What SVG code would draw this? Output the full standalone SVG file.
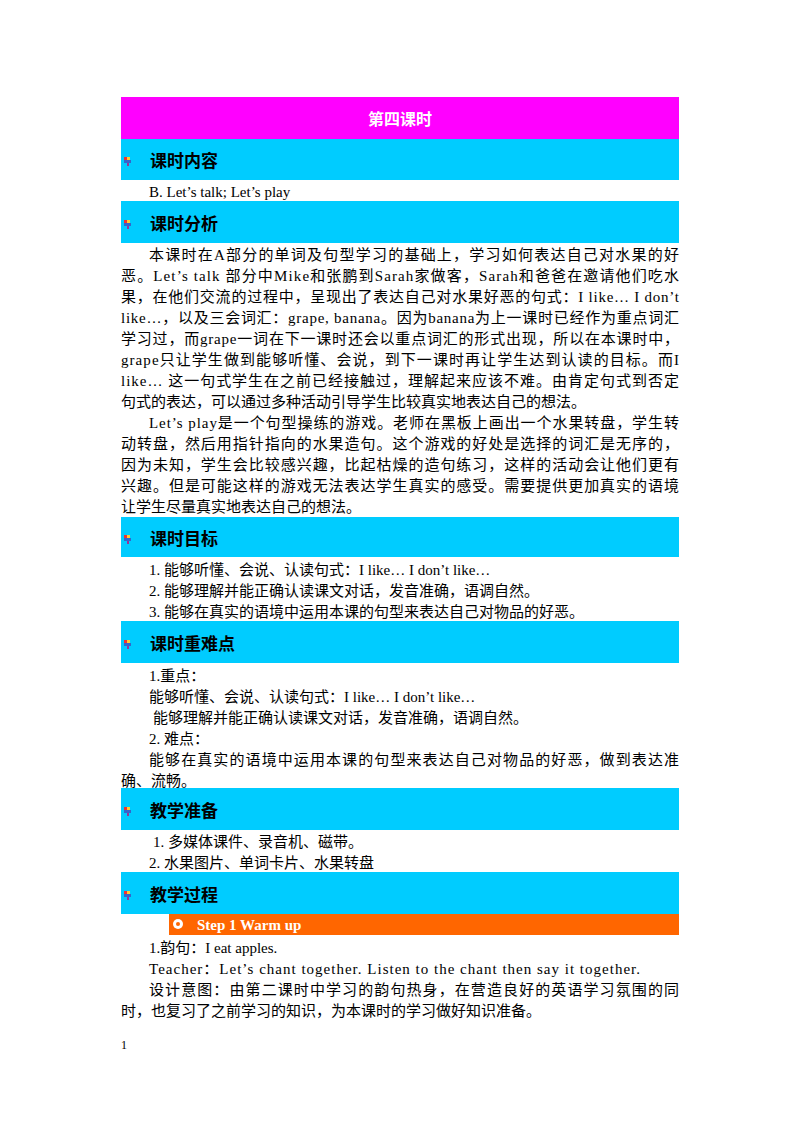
<svg xmlns="http://www.w3.org/2000/svg" width="800" height="1132" viewBox="0 0 800 1132">
<style>
.b{font-family:"Liberation Serif","Noto Sans CJK SC",serif;font-size:15px;fill:#000}
.h{font-family:"Noto Sans CJK SC","Liberation Sans",sans-serif;font-size:17px;font-weight:bold;fill:#000}
.cy{fill:#00CCFF}
</style>
<defs>
<g id="ic"><rect x="0" y="0" width="3" height="3" fill="#e33"/><rect x="3" y="0" width="3" height="3" fill="#fc3"/><rect x="0" y="3" width="7" height="3" fill="#36c"/><rect x="3" y="6" width="2" height="3" fill="#939"/></g>
</defs>
<rect width="800" height="1132" fill="#fff"/>
<g id="title"><rect x="121" y="97" width="558" height="42" fill="#FF00FF"/><text x="400" y="125" text-anchor="middle" font-family="Noto Sans CJK SC,sans-serif" font-size="16" font-weight="bold" fill="#fff">第四课时</text></g>
<g id="s1"><rect class="cy" x="121" y="139" width="558" height="41"/><use href="#ic" x="124" y="157"/><text class="h" x="150" y="167">课时内容</text></g>
<text class="b" x="149" y="197">B.  Let’s  talk;  Let’s  play</text>
<g id="s2"><rect class="cy" x="121" y="201" width="558" height="42"/><use href="#ic" x="124" y="220"/><text class="h" x="150" y="230">课时分析</text></g>
<g class="b">
<text x="149" y="260" textLength="530" lengthAdjust="spacing">本课时在A部分的单词及句型学习的基础上，学习如何表达自己对水果的好</text>
<text x="121" y="281" textLength="558" lengthAdjust="spacing">恶。Let’s talk 部分中Mike和张鹏到Sarah家做客，Sarah和爸爸在邀请他们吃水</text>
<text x="121" y="302" textLength="558" lengthAdjust="spacing">果，在他们交流的过程中，呈现出了表达自己对水果好恶的句式：I like…  I don’t</text>
<text x="121" y="323" textLength="558" lengthAdjust="spacing">like…，以及三会词汇：grape,  banana。因为banana为上一课时已经作为重点词汇</text>
<text x="121" y="344" textLength="558" lengthAdjust="spacing">学习过，而grape一词在下一课时还会以重点词汇的形式出现，所以在本课时中，</text>
<text x="121" y="365" textLength="558" lengthAdjust="spacing">grape只让学生做到能够听懂、会说，到下一课时再让学生达到认读的目标。而I</text>
<text x="121" y="386" textLength="558" lengthAdjust="spacing">like…  这一句式学生在之前已经接触过，理解起来应该不难。由肯定句式到否定</text>
<text x="121" y="407">句式的表达，可以通过多种活动引导学生比较真实地表达自己的想法。</text>
<text x="149" y="428" textLength="530" lengthAdjust="spacing">Let’s play是一个句型操练的游戏。老师在黑板上画出一个水果转盘，学生转</text>
<text x="121" y="449" textLength="558" lengthAdjust="spacing">动转盘，然后用指针指向的水果造句。这个游戏的好处是选择的词汇是无序的，</text>
<text x="121" y="470" textLength="558" lengthAdjust="spacing">因为未知，学生会比较感兴趣，比起枯燥的造句练习，这样的活动会让他们更有</text>
<text x="121" y="491" textLength="558" lengthAdjust="spacing">兴趣。但是可能这样的游戏无法表达学生真实的感受。需要提供更加真实的语境</text>
<text x="121" y="512">让学生尽量真实地表达自己的想法。</text>
</g>
<g id="s3"><rect class="cy" x="121" y="517" width="558" height="40"/><use href="#ic" x="124" y="535"/><text class="h" x="150" y="545">课时目标</text></g>
<g class="b">
<text x="149" y="575">1. 能够听懂、会说、认读句式：I like…  I don’t like…</text>
<text x="149" y="596">2. 能够理解并能正确认读课文对话，发音准确，语调自然。</text>
<text x="149" y="617">3. 能够在真实的语境中运用本课的句型来表达自己对物品的好恶。</text>
</g>
<g id="s4"><rect class="cy" x="121" y="621" width="558" height="42"/><use href="#ic" x="124" y="640"/><text class="h" x="150" y="650">课时重难点</text></g>
<g class="b">
<text x="149" y="681">1.重点：</text>
<text x="149" y="702">能够听懂、会说、认读句式：I  like…  I  don’t like…</text>
<text x="153" y="723">能够理解并能正确认读课文对话，发音准确，语调自然。</text>
<text x="149" y="744">2. 难点：</text>
<text x="149" y="765" textLength="530" lengthAdjust="spacing">能够在真实的语境中运用本课的句型来表达自己对物品的好恶，做到表达准</text>
<text x="121" y="786">确、流畅。</text>
</g>
<g id="s5"><rect class="cy" x="121" y="788" width="558" height="42"/><use href="#ic" x="124" y="807"/><text class="h" x="150" y="817">教学准备</text></g>
<g class="b">
<text x="153" y="847">1. 多媒体课件、录音机、磁带。</text>
<text x="149" y="868">2. 水果图片、单词卡片、水果转盘</text>
</g>
<g id="s6"><rect class="cy" x="121" y="872" width="558" height="42"/><use href="#ic" x="124" y="891"/><text class="h" x="150" y="901">教学过程</text></g>
<g id="step1"><rect x="169" y="914" width="510" height="21" fill="#FF6600"/><circle cx="178" cy="924" r="5" fill="#fff"/><circle cx="178" cy="924" r="2" fill="#FF6600"/><text x="197" y="930" font-family="Liberation Serif,serif" font-size="15" font-weight="bold" fill="#fff">Step 1 Warm up</text></g>
<g class="b">
<text x="149" y="953">1.韵句：I  eat  apples.</text>
<text x="149" y="974" textLength="491" lengthAdjust="spacing">Teacher：Let’s  chant  together.  Listen  to  the  chant  then  say  it  together.</text>
<text x="149" y="995" textLength="530" lengthAdjust="spacing">设计意图：由第二课时中学习的韵句热身，在营造良好的英语学习氛围的同</text>
<text x="121" y="1016">时，也复习了之前学习的知识，为本课时的学习做好知识准备。</text>
<text x="121" y="1049" font-size="12">1</text>
</g>
</svg>
